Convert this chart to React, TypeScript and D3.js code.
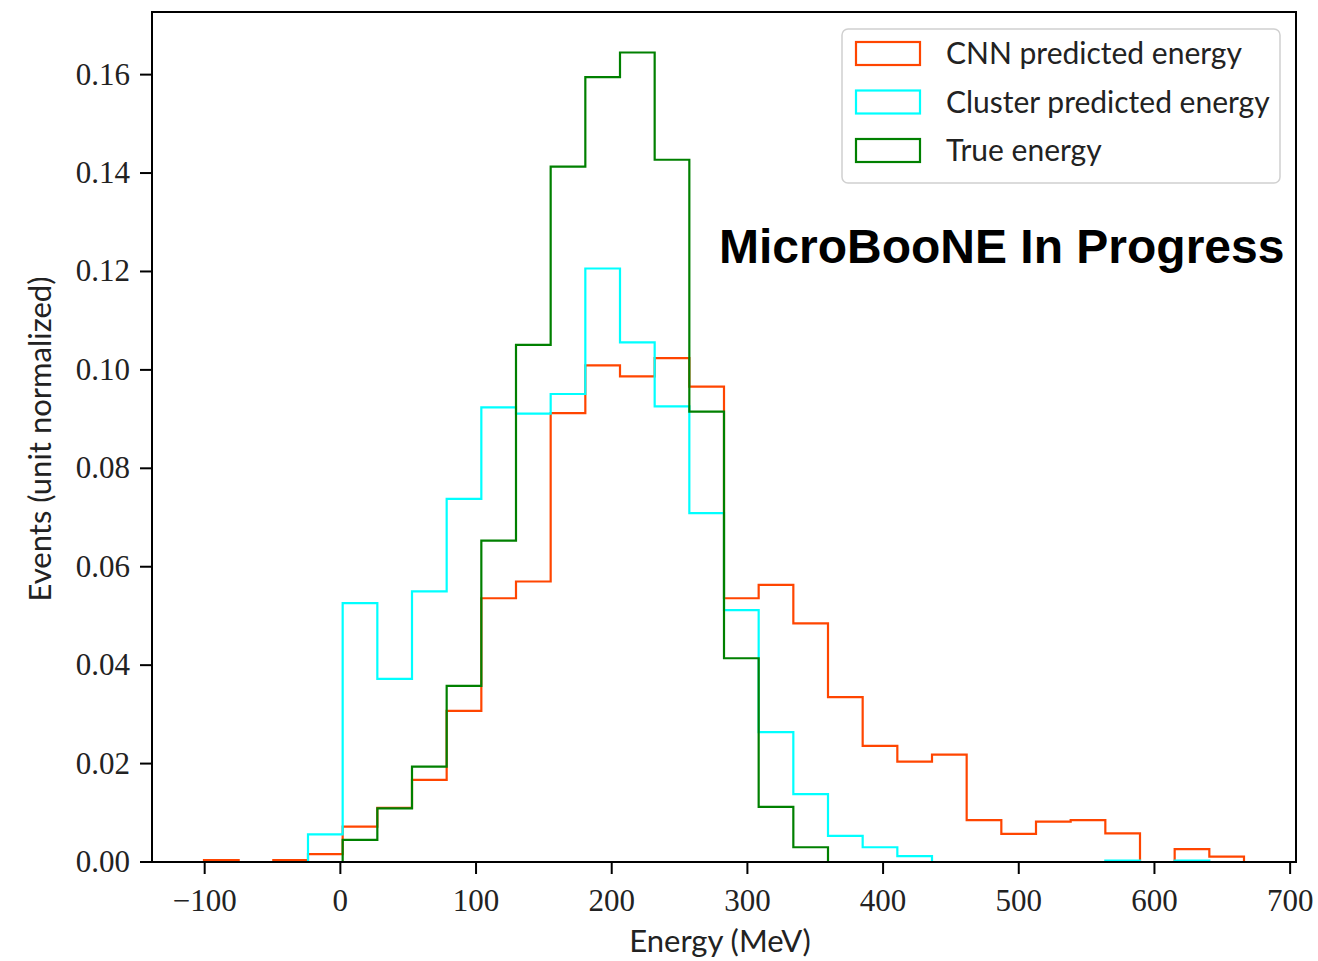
import React from "react";
import * as d3 from "d3";

const binStart = -100.5;
const binWidth = 25.55;
const nBins = 30;

const cnnValues = [0.0004, 0, 0.0004, 0.0016, 0.0072, 0.011, 0.0167, 0.0307, 0.0536, 0.057, 0.0912, 0.1009, 0.0987, 0.1024, 0.0966, 0.0536, 0.0563, 0.0485, 0.0335, 0.0236, 0.0204, 0.0218, 0.0085, 0.0057, 0.0082, 0.0085, 0.0058, 0, 0.0026, 0.0011];
const clusterValues = [0, 0, 0, 0.0056, 0.0526, 0.0372, 0.055, 0.0738, 0.0924, 0.0911, 0.0951, 0.1206, 0.1056, 0.0926, 0.0709, 0.0512, 0.0264, 0.0138, 0.0053, 0.003, 0.0012, 0, 0, 0, 0, 0, 0.0003, 0, 0.0003, 0];
const trueValues = [0, 0, 0, 0, 0.0045, 0.0109, 0.0194, 0.0358, 0.0653, 0.1051, 0.1413, 0.1595, 0.1645, 0.1427, 0.0915, 0.0414, 0.0112, 0.003, 0, 0, 0, 0, 0, 0, 0, 0, 0, 0, 0, 0];

const seriesNames = ["CNN predicted energy", "Cluster predicted energy", "True energy"];
const seriesColors = ["#ff4500", "#00ffff", "#008000"];

const xTicks = [-100, 0, 100, 200, 300, 400, 500, 600, 700];
const yTicks = [0, 0.02, 0.04, 0.06, 0.08, 0.1, 0.12, 0.14, 0.16];

const W = 1318;
const H = 961;
const left = 152;
const right = 1296;
const top = 12;
const bottom = 862;

export default function App() {
  const edges = d3.range(nBins + 1).map((i) => binStart + i * binWidth);
  const lo = edges[0];
  const hi = edges[nBins];
  const allMax = d3.max([...cnnValues, ...clusterValues, ...trueValues]) as number;
  const pad = (hi - lo) * 0.05;
  const x = d3.scaleLinear().domain([lo - pad, hi + pad]).range([left, right]);
  const y = d3.scaleLinear().domain([0, allMax * 1.05]).range([bottom, top]);

  const stepPath = (vals: number[]) => {
    const pts: [number, number][] = [[edges[0], 0]];
    vals.forEach((v, i) => {
      pts.push([edges[i], v]);
      pts.push([edges[i + 1], v]);
    });
    pts.push([edges[nBins], 0]);
    return d3.line<[number, number]>().x((d) => x(d[0])).y((d) => y(d[1]))(pts) as string;
  };

  const series = [cnnValues, clusterValues, trueValues];
  const serif = "'Liberation Serif', 'Times New Roman', serif";
  const sans = "Lato, 'Open Sans', sans-serif";

  const fmtY = (v: number) => v.toFixed(2);
  const fmtX = (v: number) => (v < 0 ? "\u2212" + Math.abs(v) : String(v));

  const legX = 842;
  const legY = 29;
  const legW = 438;
  const legH = 154;

  return (
    <svg width={W} height={H} style={{ position: "absolute", left: 0, top: 0, background: "#fff" }}>
      <rect x={0} y={0} width={W} height={H} fill="#fff" />
      <defs>
        <clipPath id="plotclip">
          <rect x={left} y={top} width={right - left} height={bottom - top} />
        </clipPath>
      </defs>
      <g clipPath="url(#plotclip)">
        {series.map((vals, i) => (
          <path key={i} d={stepPath(vals)} fill="none" stroke={seriesColors[i]} strokeWidth={2.2} strokeLinejoin="miter" />
        ))}
      </g>
      {/* frame */}
      <rect x={left} y={top} width={right - left} height={bottom - top} fill="none" stroke="#000" strokeWidth={2} />
      {/* x ticks */}
      {xTicks.map((t) => (
        <g key={t}>
          <line x1={x(t)} x2={x(t)} y1={bottom} y2={bottom + 12} stroke="#000" strokeWidth={2} />
          <text x={x(t)} y={911} textAnchor="middle" fontFamily={serif} fontSize={31} fill="#222">
            {fmtX(t)}
          </text>
        </g>
      ))}
      {/* y ticks */}
      {yTicks.map((t) => (
        <g key={t}>
          <line x1={left - 12} x2={left} y1={y(t)} y2={y(t)} stroke="#000" strokeWidth={2} />
          <text x={130} y={y(t) + 10} textAnchor="end" fontFamily={serif} fontSize={31} fill="#222">
            {fmtY(t)}
          </text>
        </g>
      ))}
      <text x={720} y={952} textAnchor="middle" fontFamily={sans} fontSize={31} fill="#222">
        Energy (MeV)
      </text>
      <text transform={`translate(51, 439) rotate(-90)`} textAnchor="middle" fontFamily={sans} fontSize={31} fill="#222">
        Events (unit normalized)
      </text>
      {/* legend */}
      <rect x={legX} y={legY} width={legW} height={legH} rx={6} ry={6} fill="#fff" fillOpacity={0.8} stroke="#d0d0d0" strokeWidth={1.5} />
      {seriesNames.map((name, i) => (
        <g key={name}>
          <rect x={856} y={42 + i * 48.5} width={64} height={23} fill="none" stroke={seriesColors[i]} strokeWidth={2.2} />
          <text x={946} y={64 + i * 48.5} fontFamily={sans} fontSize={30} fill="#222">
            {name}
          </text>
        </g>
      ))}
      <text x={719} y={263} fontFamily="'Liberation Sans', Arial, sans-serif" fontWeight="bold" fontSize={48} fill="#000">
        MicroBooNE In Progress
      </text>
    </svg>
  );
}
